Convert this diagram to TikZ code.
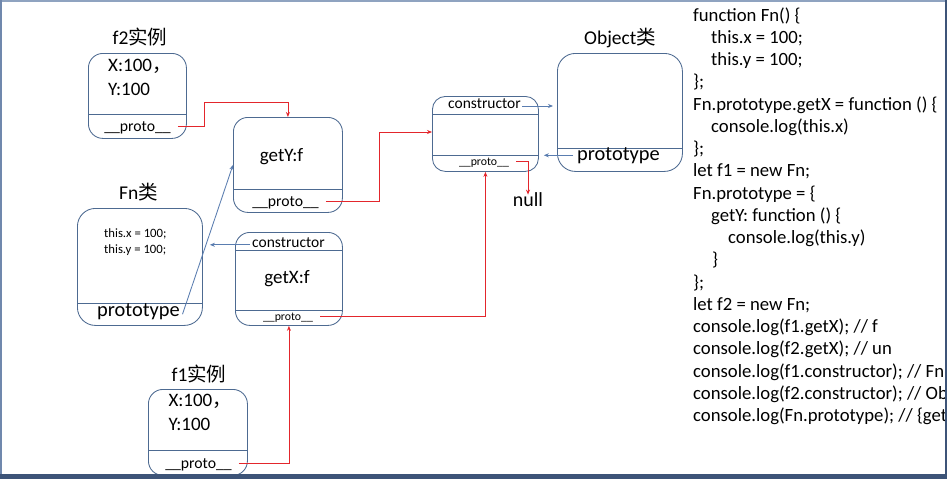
\documentclass[tikz,border=0pt]{standalone}
\usepackage{fontspec}
\setmainfont{Carlito}
\newfontfamily\cjk{Noto Sans CJK SC}
\usetikzlibrary{arrows.meta,calc}
\newcommand\fsz[1]{\fontsize{#1}{#1}\selectfont}
\definecolor{boxc}{HTML}{4D6A91}
\definecolor{bluea}{HTML}{5A7DB0}
\definecolor{reda}{HTML}{E3262C}
\definecolor{frametop}{HTML}{8FA3C0}
\definecolor{frameleft}{HTML}{7088AD}
\definecolor{framedark}{HTML}{3D5478}
\begin{document}
\begin{tikzpicture}[x=1pt,y=-1pt,
  objbox/.style={draw=boxc,line width=0.85pt,rounded corners=14.5pt,anchor=north west,inner sep=0pt},
  divider/.style={draw=boxc,line width=0.85pt},
  lbl/.style={inner sep=0pt,anchor=base,text=black},
  redarr/.style={draw=reda,line width=0.85pt,-{Stealth[length=5pt,width=4pt]}},
  bluearr/.style={draw=bluea,line width=0.85pt,-{Stealth[length=5pt,width=4pt]}},
  codeln/.style={inner sep=0pt,anchor=base west,font=\fsz{18.7}}
]
\useasboundingbox (0,0) rectangle (947,479);
\fill[white] (0,0) rectangle (947,479);

% boxes
\node[objbox,minimum width=98pt,minimum height=85pt] (f2) at (88,53) {};
\draw[divider] ($(f2.north west)+(0,61)$) -- ($(f2.north east)+(0,61)$);
\node[objbox,minimum width=109pt,minimum height=95pt] (gety) at (233,117) {};
\draw[divider] ($(gety.north west)+(0,72)$) -- ($(gety.north east)+(0,72)$);
\node[objbox,rounded corners=18pt,minimum width=125pt,minimum height=117pt] (fn) at (77,208) {};
\draw[divider] ($(fn.north west)+(0,95)$) -- ($(fn.north east)+(0,95)$);
\node[objbox,minimum width=107pt,minimum height=93pt] (gx) at (235,232) {};
\draw[divider] ($(gx.north west)+(0,18)$) -- ($(gx.north east)+(0,18)$);
\draw[divider] ($(gx.north west)+(0,78)$) -- ($(gx.north east)+(0,78)$);
\node[objbox,minimum width=99pt,minimum height=86pt] (f1) at (148,389) {};
\draw[divider] ($(f1.north west)+(0,61)$) -- ($(f1.north east)+(0,61)$);
\node[objbox,rounded corners=13pt,minimum width=106pt,minimum height=75pt] (op) at (432,96) {};
\draw[divider] ($(op.north west)+(0,18)$) -- ($(op.north east)+(0,18)$);
\draw[divider] ($(op.north west)+(0,59)$) -- ($(op.north east)+(0,59)$);
\node[objbox,rounded corners=18pt,minimum width=125pt,minimum height=118pt] (obj) at (557,53) {};
\draw[divider] ($(obj.north west)+(0,95)$) -- ($(obj.north east)+(0,95)$);

% titles
\node[lbl,font=\fsz{19.5}] (tf2) at (140,44.3) {f2{\cjk 实例}};
\node[lbl,font=\fsz{19.5}] (tfn) at (138.5,199.3) {Fn{\cjk 类}};
\node[lbl,font=\fsz{19.5}] (tf1) at (199,381) {f1{\cjk 实例}};
\node[lbl,font=\fsz{19.5}] (tobj) at (620,44.3) {Object{\cjk 类}};

% f2 contents
\node[lbl,anchor=base west,font=\fsz{19}] (f2x) at (108,71) {X:100{\cjk ，}};
\node[lbl,anchor=base west,font=\fsz{19}] (f2y) at (108,95) {Y:100};
\node[lbl,font=\fsz{15.7}] (f2p) at (137.5,131) {\_\_proto\_\_};

% getY contents
\node[lbl,font=\fsz{19}] (gyt) at (281.5,161.7) {getY:f};
\node[lbl,font=\fsz{15.7}] (gyp) at (285.5,206.5) {\_\_proto\_\_};

% Fn contents
\node[lbl,anchor=base west,font=\fsz{12.7}] (fnx) at (104,237.5) {this.x = 100;};
\node[lbl,anchor=base west,font=\fsz{12.7}] (fny) at (104,253.3) {this.y = 100;};
\node[lbl,font=\fsz{20.4}] (fnp) at (138.5,316.7) {prototype};

% getX contents
\node[lbl,font=\fsz{15.5}] (gxc) at (288.5,247.3) {constructor};
\node[lbl,font=\fsz{19}] (gxt) at (287,283.3) {getX:f};
\node[lbl,font=\fsz{11.8}] (gxp) at (288,320) {\_\_proto\_\_};

% f1 contents
\node[lbl,anchor=base west,font=\fsz{19}] (f1x) at (168.3,406.7) {X:100{\cjk ，}};
\node[lbl,anchor=base west,font=\fsz{19}] (f1y) at (168.3,430.7) {Y:100};
\node[lbl,font=\fsz{15.7}] (f1p) at (198.5,468.3) {\_\_proto\_\_};

% Object.prototype contents
\node[lbl,font=\fsz{15.5}] (opc) at (484.5,108.3) {constructor};
\node[lbl,font=\fsz{11.8}] (opp) at (484,165.7) {\_\_proto\_\_};
\node[lbl,font=\fsz{20}] (nul) at (528,206.7) {null};

% Object contents
\node[lbl,font=\fsz{20.4}] (objp) at (618.5,160.7) {prototype};

% red connectors (__proto__)
\coordinate (k1) at (204,102);
\draw[redarr] ([xshift=7pt,yshift=5pt]f2p.base east) -| (k1) -| (gety.north);
\coordinate (k2) at (379,132);
\draw[redarr] ([xshift=7pt,yshift=5pt]gyp.base east) -| (k2) -- (k2 -| op.west);
\draw[redarr] ([xshift=7pt,yshift=3.3pt]gxp.base east) -| (op.south);
\draw[redarr] ([xshift=7pt,yshift=5pt]f1p.base east) -| (gx.south);
\draw[redarr] ([xshift=7pt,yshift=4pt]opp.base east) -| ([yshift=-2pt]nul.north);

% blue connectors
\draw[bluearr] ([xshift=2.5pt,yshift=2.5pt]fnp.base east) -- (gety.west);
\draw[bluearr,shorten >=7pt] ([xshift=-2pt,yshift=2.5pt]gxc.base west) -- ($(fn.east |- gxc.base west)+(0,-2.5)$);
\draw[bluearr,shorten >=4pt] ([xshift=1.5pt,yshift=2.3pt]opc.base east) -- ($(obj.west |- opc.base east)+(0,-2.3)$);
\draw[bluearr,shorten >=5pt] ([xshift=-4pt,yshift=5.4pt]objp.base west) -- ($(op.east |- objp.base west)+(0,-5.4)$);

% code
\begin{scope}
\clip (680,0) rectangle (945,474);
\node[codeln] (c1) at (693,21) {function Fn() \{};
\node[codeln] (c2) at (711,43.3) {this.x = 100;};
\node[codeln] (c3) at (711,65.5) {this.y = 100;};
\node[codeln] (c4) at (693,87.8) {\};};
\node[codeln] (c5) at (693,110) {Fn.prototype.getX = function () \{};
\node[codeln] (c6) at (711,132.3) {console.log(this.x)};
\node[codeln] (c7) at (693,154.6) {\};};
\node[codeln] (c8) at (693,176.8) {let f1 = new Fn;};
\node[codeln] (c9) at (693,199.1) {Fn.prototype = \{};
\node[codeln] (c10) at (711,221.3) {getY: function () \{};
\node[codeln] (c11) at (728,243.6) {console.log(this.y)};
\node[codeln] (c12) at (712,265.9) {\}};
\node[codeln] (c13) at (693,288.1) {\};};
\node[codeln] (c14) at (693,310.4) {let f2 = new Fn;};
\node[codeln] (c15) at (693,332.6) {console.log(f1.getX); // f};
\node[codeln] (c16) at (693,354.9) {console.log(f2.getX); // un};
\node[codeln] (c17) at (693,377.2) {console.log(f1.constructor); // Fn};
\node[codeln] (c18) at (693,399.4) {console.log(f2.constructor); // Ob};
\node[codeln] (c19) at (693,421.7) {console.log(Fn.prototype); // \{get};
\end{scope}

% frame
\fill[frametop] (0,0) rectangle (947,1.5);
\fill[frameleft] (0,0) rectangle (1.5,479);
\fill[framedark] (945,0) rectangle (947,479);
\fill[framedark] (0,474) rectangle (947,479);
\end{tikzpicture}
\end{document}
